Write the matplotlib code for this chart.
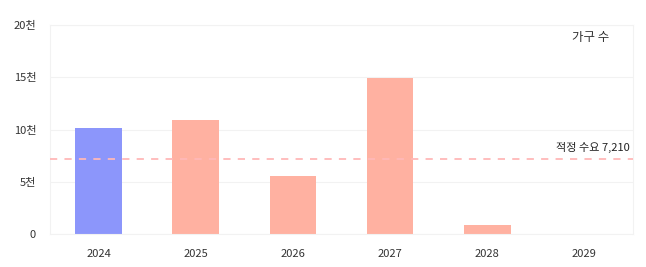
import numpy as np
import matplotlib
matplotlib.use("Agg")
import matplotlib.pyplot as plt

plt.rcParams["font.family"] = ["Noto Sans CJK KR", "DejaVu Sans"]

years = ["2024", "2025", "2026", "2027", "2028", "2029"]
households = [10150, 10900, 5550, 14950, 850, 0]
bar_colors = ["#8c96fb", "#ffb1a1", "#ffb1a1", "#ffb1a1", "#ffb1a1", "#ffb1a1"]
demand = 7210
y_ticks = [0, 5000, 10000, 15000, 20000]
y_labels = ["0", "5천", "10천", "15천", "20천"]

fig = plt.figure(figsize=(6.46, 2.67), dpi=100)
ax = fig.add_axes([50 / 646, 33 / 267, 583 / 646, 209 / 267])

x = np.arange(len(years))
ax.bar(x, households, width=0.48, color=bar_colors, zorder=2)
ax.axhline(demand, color="#ffb8b8", linestyle=(0, (4, 4)), linewidth=1.3, zorder=3)
ax.text(len(years) - 0.53, demand + 550, f"적정 수요 {demand:,}", ha="right",
        va="bottom", fontsize=8, color="#222222", fontweight="medium")
ax.text(0.96, 0.94, "가구 수", transform=ax.transAxes, ha="right", va="center",
        fontsize=9, color="#333333")

ax.set_xlim(-0.5, len(years) - 0.5)
ax.set_ylim(0, 20000)
ax.set_xticks(x)
ax.set_xticklabels(years)
ax.set_yticks(y_ticks)
ax.set_yticklabels(y_labels)
ax.tick_params(length=0, labelsize=8, colors="#333333", pad=10)
ax.tick_params(axis="x", pad=11)
ax.grid(axis="y", color="#f2f2f2", linewidth=0.8, zorder=0)
for s in ax.spines.values():
    s.set_color("#f2f2f2")
    s.set_linewidth(0.8)

fig.savefig("out.png", dpi=100)
